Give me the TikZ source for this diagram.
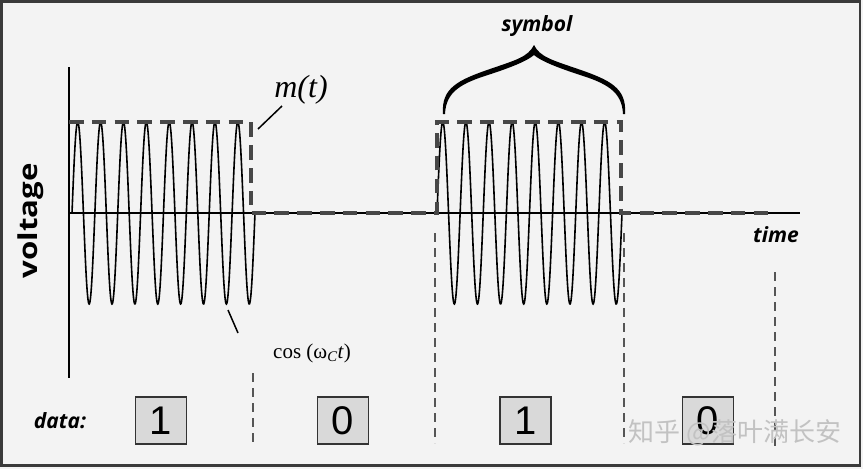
\documentclass[tikz,border=0pt]{standalone}
\usepackage{fontspec}
\setmainfont{Liberation Serif}
\newfontfamily\labfont{Open Sans}
\newfontfamily\digfont{Liberation Sans}
\newfontfamily\cjkfont{Noto Sans CJK SC}
\definecolor{bg}{HTML}{F3F3F3}
\definecolor{framecol}{HTML}{3A3A3A}
\definecolor{mgray}{HTML}{474747}
\definecolor{sgray}{HTML}{555555}
\definecolor{boxfill}{HTML}{D9D9D9}
\definecolor{bdr}{HTML}{333333}
\definecolor{wmark}{HTML}{C2C2C2}
\tikzset{
  wave/.style={line width=1.6pt, black},
  mline/.style={line width=4pt, draw=mgray, dash pattern=on 14.5pt off 8.3pt},
  sepline/.style={line width=1.3pt, draw=sgray, dash pattern=on 9pt off 6pt},
  databox/.style={draw=bdr, fill=boxfill, line width=1.4pt, minimum width=51pt, minimum height=47pt, inner sep=0pt, font=\digfont\fontsize{40}{40}\selectfont},
  lab/.style={font=\labfont\bfseries\itshape\fontsize{21}{25}\selectfont, inner sep=0pt},
  leader/.style={line width=1.5pt, black},
  axisline/.style={line width=1.9pt, black},
}
\begin{document}
\begin{tikzpicture}[x=1pt,y=-1pt]
\useasboundingbox (0,0) rectangle (863,469);
\fill[bg] (0,0) rectangle (863,469);
\draw[line width=2.5pt, framecol] (1.25,1.25) rectangle (860,465.5);

% axes
\coordinate (ytop) at (69,67);
\coordinate (ybot) at (69,378);
\coordinate (xl) at (69,213);
\coordinate (xr) at (800,213);
\draw[axisline] (ytop) -- (ybot);
\draw[axisline] (xl) -- (xr);

% carrier bursts (angle as parameter)
\draw[wave] plot[samples=500, domain=0:2880] ({72 + \x*0.0635417}, {213 - 91*sin(\x)});
\draw[wave] plot[samples=500, domain=0:2880] ({437 + \x*0.0642361}, {213 - 91*sin(\x)});

% m(t)
\draw[mline] (69,122) -- (251,122) -- (251,213) -- (437,213) -- (437,122) -- (621,122) -- (621,213) -- (775,213);

% separators
\draw[sepline] (253,373) -- (253,443);
\draw[sepline] (435,233) -- (435,443);
\draw[sepline] (624,233) -- (624,443);
\draw[sepline] (775,272) -- (775,450);

% labels
\node[rotate=90] (volt) at (31,221) {\scalebox{1.2}[1]{\labfont\bfseries\fontsize{26}{30}\selectfont voltage}};
\node[lab] (time) at (776,235) {time};
\node[lab] (sym) at (537,26) {symbol};
\node[inner sep=0pt, font=\fontsize{32}{36}\selectfont\itshape] (mt) at (301,90) {m(t)};
\node[inner sep=0pt, font=\fontsize{21}{24}\selectfont] (cosl) at (312,353) {cos (ω\textsubscript{\itshape C}\textit{t})};
\coordinate (mtA) at (258,129);
\coordinate (mtB) at (282,106);
\draw[leader] (mtA) -- (mtB);
\coordinate (cA) at (228,310);
\coordinate (cB) at (238,333);
\draw[leader] (cA) -- (cB);

% brace
\fill[black] (443,114) .. controls (441,88) and (458,80) .. (490,69) .. controls (516,60) and (528,57) .. (534,45) -- (534,55) .. controls (527,61) and (512,67) .. (491,74) .. controls (462,83) and (446,91) .. (445,114) -- cycle;
\begin{scope}[shift={(1068,0)}, xscale=-1]
\fill[black] (443,114) .. controls (441,88) and (458,80) .. (490,69) .. controls (516,60) and (528,57) .. (534,45) -- (534,55) .. controls (527,61) and (512,67) .. (491,74) .. controls (462,83) and (446,91) .. (445,114) -- cycle;
\end{scope}

% data
\node[lab] (data) at (60,421) {data:};
\node[databox] (b1) at (161,420.5) {1};
\node[databox] (b2) at (343,420.5) {0};
\node[databox] (b3) at (525.5,420.5) {1};
\node[databox] (b4) at (708,420.5) {0};

% watermark
\node[inner sep=0pt, text=wmark, font=\cjkfont\fontsize{26}{30}\selectfont] (wm) at (735,433) {知乎 @落叶满长安};
\end{tikzpicture}
\end{document}
